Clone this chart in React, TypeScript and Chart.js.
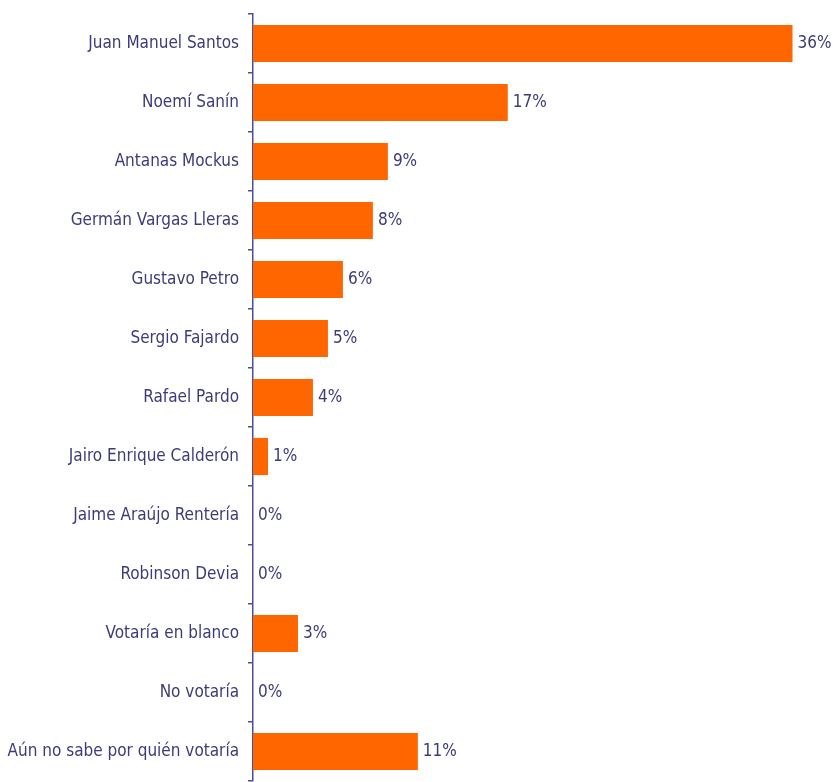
import React, { useEffect, useRef } from "react";
import { Chart, registerables } from "chart.js";

Chart.register(...registerables);

const categories = [
  "Juan Manuel Santos",
  "Noemí Sanín",
  "Antanas Mockus",
  "Germán Vargas Lleras",
  "Gustavo Petro",
  "Sergio Fajardo",
  "Rafael Pardo",
  "Jairo Enrique Calderón",
  "Jaime Araújo Rentería",
  "Robinson Devia",
  "Votaría en blanco",
  "No votaría",
  "Aún no sabe por quién votaría",
];

const values = [36, 17, 9, 8, 6, 5, 4, 1, 0, 0, 3, 0, 11];

const FONT = "'Liberation Sans Narrow', 'Arial Narrow', 'DejaVu Sans Condensed', sans-serif";
const NAVY = "#3b3b7a";
const AXIS = "#4d4d9a";
const ORANGE = "#ff6600";

const valueLabels = {
  id: "valueLabels",
  afterDatasetsDraw(chart: any) {
    const ctx = chart.ctx;
    const meta = chart.getDatasetMeta(0);
    ctx.save();
    ctx.font = `17px ${FONT}`;
    ctx.fillStyle = NAVY;
    ctx.textBaseline = "middle";
    ctx.textAlign = "left";
    meta.data.forEach((bar: any, i: number) => {
      const v = chart.data.datasets[0].data[i];
      ctx.fillText(`${v}%`, bar.x + 5, bar.y);
    });
    ctx.restore();
  },
};

export default function App() {
  const ref = useRef<HTMLCanvasElement>(null);
  useEffect(() => {
    document.body.style.margin = "0";
    const chart = new Chart(ref.current!, {
      type: "bar",
      data: {
        labels: categories,
        datasets: [
          {
            data: values,
            backgroundColor: ORANGE,
            borderWidth: 0,
            categoryPercentage: 1,
            barPercentage: 0.63,
          },
        ],
      },
      options: {
        indexAxis: "y",
        animation: false,
        responsive: false,
        maintainAspectRatio: false,
        layout: { padding: { top: 14, bottom: 1, left: 0, right: 0 } },
        plugins: {
          legend: { display: false },
          tooltip: { enabled: false },
        },
        scales: {
          x: {
            display: false,
            min: 0,
            max: 38.7,
          },
          y: {
            afterFit(scale: any) {
              scale.width = 253;
              scale.paddingTop = 0;
              scale.paddingBottom = 0;
            },
            grid: {
              offset: true,
              drawOnChartArea: false,
              tickLength: 5,
              color: AXIS,
              lineWidth: 1.5,
            },
            border: { color: AXIS, width: 1.5 },
            ticks: {
              color: NAVY,
              padding: 9,
              font: { family: FONT, size: 17 },
            },
          },
        },
      },
      plugins: [valueLabels],
    });
    return () => chart.destroy();
  }, []);
  return (
    <div style={{ position: "absolute", left: 0, top: 0, width: 833, height: 782 }}>
      <canvas ref={ref} width={833} height={782} style={{ width: 833, height: 782 }} />
    </div>
  );
}
